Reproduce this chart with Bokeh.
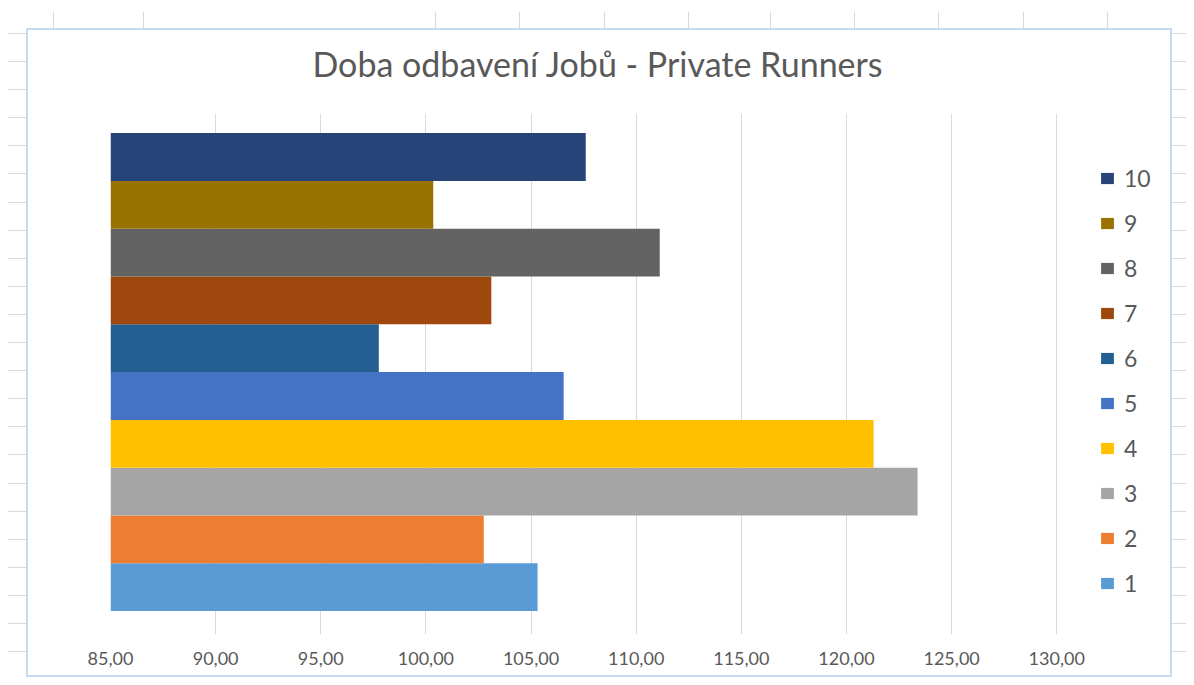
from bokeh.plotting import figure
from bokeh.models import Range1d, FixedTicker, Legend, LegendItem
from bokeh.embed import file_html
from bokeh.resources import INLINE

# ---- data ----
series_labels = ["1", "2", "3", "4", "5", "6", "7", "8", "9", "10"]
series_values = [105.31, 102.75, 123.38, 121.29, 106.55, 97.76, 103.11, 111.12, 100.35, 107.60]
series_colors = ["#5B9BD5", "#ED7D31", "#A5A5A5", "#FFC000", "#4472C4",
                 "#255E91", "#9E480E", "#636363", "#997300", "#264478"]
tick_values = [85, 90, 95, 100, 105, 110, 115, 120, 125, 130]
tick_labels = ["85,00", "90,00", "95,00", "100,00", "105,00",
               "110,00", "115,00", "120,00", "125,00", "130,00"]
axis_min = 85
title_text = "Doba odbavení Jobů - Private Runners"

FONT = "Lato"
TXT = "#595959"

# the frame also spans the legend column, so the visible x window runs a bit past 130
view_max = 136.17

p = figure(width=1186, height=677, output_backend="svg", toolbar_location=None,
           x_range=Range1d(axis_min, view_max), y_range=Range1d(0.01, 10.91),
           min_border_left=110, min_border_right=0, min_border_top=113, min_border_bottom=43)

p.border_fill_color = None
p.background_fill_color = None
p.outline_line_color = None

# spreadsheet-like backdrop around the chart area (pure decoration via CSS)
gray = "#D9D9D9"
cols = [53, 143, 435, 519, 604, 688, 770, 854, 938, 1023, 1107]
stops = []
prev = 0
for c in cols:
    stops.append(f"transparent {prev}px {c}px")
    stops.append(f"{gray} {c}px {c+1}px")
    prev = c + 1
stops.append(f"transparent {prev}px 100%")
col_grad = "linear-gradient(to right, " + ", ".join(stops) + ")"
row_grad = (f"repeating-linear-gradient(to bottom, {gray} 0px, {gray} 1px, "
            f"transparent 1px, transparent 28.1px)")
p.styles = {
    "background-image": ", ".join([
        "linear-gradient(#ffffff, #ffffff)",
        "linear-gradient(#C6DBF0, #C6DBF0)",
        col_grad,
        row_grad,
    ]),
    "background-position": "28px 30px, 26px 28px, 0px 12px, 8px 33px",
    "background-size": "1142px 645px, 1146px 649px, 100% calc(100% - 12px), calc(100% - 8px) calc(100% - 33px)",
    "background-repeat": "no-repeat, no-repeat, no-repeat, no-repeat",
}

renderers = []
for i, (lab, v, col) in enumerate(zip(series_labels, series_values, series_colors)):
    r = p.hbar(y=[i + 1], left=[axis_min], right=[v], height=1.0,
               fill_color=col, line_color=None)
    renderers.append(r)

# axes
p.yaxis.visible = False
p.xaxis.ticker = FixedTicker(ticks=tick_values)
p.xaxis.major_label_overrides = {t: l for t, l in zip(tick_values, tick_labels)}
p.xaxis.axis_line_color = None
p.xaxis.major_tick_line_color = None
p.xaxis.minor_tick_line_color = None
p.xaxis.major_tick_in = 0
p.xaxis.major_tick_out = 0
p.xaxis.major_label_standoff = 17
p.xaxis.major_label_text_font = FONT
p.xaxis.major_label_text_font_size = "18px"
p.xaxis.major_label_text_color = TXT

p.xgrid.ticker = FixedTicker(ticks=tick_values)
p.xgrid.grid_line_color = "#D9D9D9"
p.xgrid.grid_line_width = 1
p.ygrid.visible = False

# title
p.title.text = title_text
p.title.align = "left"
p.title.text_font = FONT
p.title.text_font_size = "34px"
p.title.text_font_style = "normal"
p.title.text_color = TXT
p.title.offset = 202
p.title.standoff = 60

# legend (10 on top)
items = [LegendItem(label=series_labels[i], renderers=[renderers[i]]) for i in range(9, -1, -1)]
legend = Legend(items=items, location=(989, 37), padding=0, margin=0,
                glyph_width=16, glyph_height=14, label_height=28, spacing=17,
                label_standoff=9,
                label_text_font=FONT, label_text_font_size="23px", label_text_color=TXT,
                border_line_color=None, background_fill_alpha=0)
p.add_layout(legend)

open("out.html", "w").write(file_html(p, INLINE))
